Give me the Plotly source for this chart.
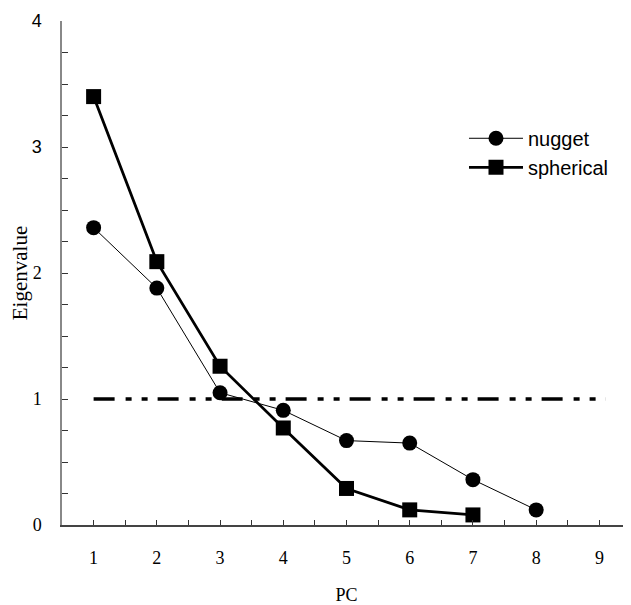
import plotly.graph_objects as go

pc = [1, 2, 3, 4, 5, 6, 7, 8]
nugget = [2.36, 1.88, 1.05, 0.91, 0.67, 0.65, 0.36, 0.12]
pc_sph = [1, 2, 3, 4, 5, 6, 7]
spherical = [3.40, 2.09, 1.26, 0.77, 0.29, 0.12, 0.08]
thresh_x = [1, 9.1]
thresh_y = [1, 1]

y_tickvals = [0, 1, 2, 3, 4]
y_ticktext = ["0", "1", "2",
              '<span style="font-family:Arial">3</span>',
              '<span style="font-family:Arial">4</span>']
x_tickvals = [1, 2, 3, 4, 5, 6, 7, 8, 9]

fig = go.Figure()
fig.add_trace(go.Scatter(x=thresh_x, y=thresh_y, mode="lines", showlegend=False,
                         line=dict(color="black", width=3.3,
                                   dash="21px,11px,6px,10px,6px,10px")))
fig.add_trace(go.Scatter(x=pc, y=nugget, mode="lines+markers", name="nugget",
                         line=dict(color="black", width=1),
                         marker=dict(symbol="circle", size=15, color="black")))
fig.add_trace(go.Scatter(x=pc_sph, y=spherical, mode="lines+markers", name="spherical",
                         line=dict(color="black", width=2.8),
                         marker=dict(symbol="square", size=15, color="black")))

fig.update_layout(
    width=623, height=597,
    margin=dict(l=54, r=0, t=13, b=80, autoexpand=False),
    plot_bgcolor="white", paper_bgcolor="white",
    font=dict(family="Liberation Serif, Times New Roman, serif", size=18, color="black"),
    legend=dict(x=0.7065, y=0.806, xanchor="left", yanchor="top",
                font=dict(family="Liberation Sans, Arial, sans-serif", size=20),
                itemwidth=54, bgcolor="rgba(0,0,0,0)"),
)
fig.update_xaxes(range=[0.5, 9.5], tickvals=x_tickvals, showgrid=False, zeroline=False,
                 showline=True, linecolor="#444", linewidth=1.5,
                 ticks="inside", ticklen=5, tickcolor="#333", tickwidth=1,
                 minor=dict(dtick=0.5, tick0=0, ticks="inside", ticklen=5, tickcolor="#333"),
                 ticklabelstandoff=16,
                 title=dict(text="PC", standoff=24, font=dict(size=18)))
fig.update_yaxes(range=[0, 4], tickvals=y_tickvals, ticktext=y_ticktext,
                 showgrid=False, zeroline=False,
                 showline=True, linecolor="#888", linewidth=1.5,
                 ticks="inside", ticklen=6, tickcolor="#333", tickwidth=1,
                 minor=dict(dtick=0.25, tick0=0, ticks="inside", ticklen=6, tickcolor="#333"),
                 ticklabelstandoff=15,
                 title=dict(text="Eigenvalue", standoff=2, font=dict(size=21)))

fig.write_html("out.html")
